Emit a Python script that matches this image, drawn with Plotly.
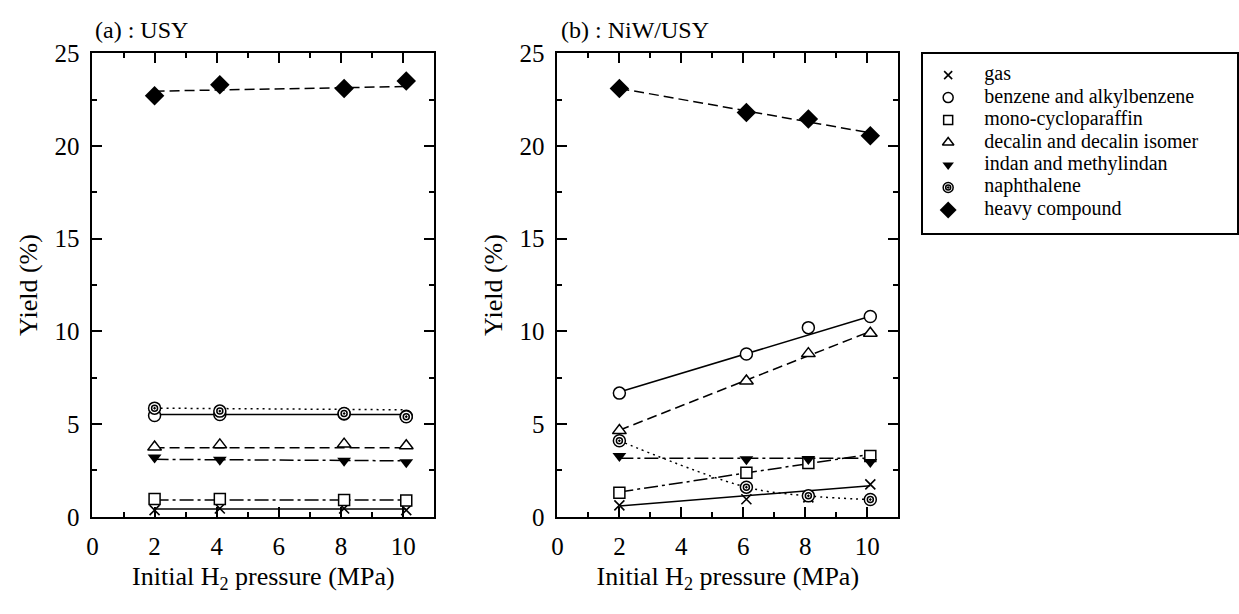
import plotly.graph_objects as go

# ---------------- data ----------------
series_names = ["gas", "benzene and alkylbenzene", "mono-cycloparaffin",
                "decalin and decalin isomer", "indan and methylindan",
                "naphthalene", "heavy compound"]

x_ticks = [0, 2, 4, 6, 8, 10]
y_ticks = [0, 5, 10, 15, 20, 25]

# (a) USY
x_a = [2.0, 4.1, 8.1, 10.1]
gas_a = [0.36, 0.45, 0.45, 0.36]
benz_a = [5.46, 5.52, 5.55, 5.42]
mono_a = [0.96, 0.96, 0.91, 0.88]
dec_a = [3.76, 3.88, 3.92, 3.83]
indan_a = [3.20, 3.08, 3.03, 2.94]
naph_a = [5.86, 5.70, 5.57, 5.40]
heavy_a = [22.7, 23.3, 23.1, 23.5]

# trend lines (a), values at first and last pressure
gas_a_fit = [0.42, 0.42]
benz_a_fit = [5.52, 5.52]
mono_a_fit = [0.91, 0.91]
dec_a_fit = [3.73, 3.73]
indan_a_fit = [3.10, 3.02]
naph_a_fit = [5.86, 5.77]
heavy_a_fit = [22.95, 23.2]

# (b) NiW/USY
x_b = [2.0, 6.1, 8.1, 10.1]
gas_b = [0.62, 0.95, 1.05, 1.75]
benz_b = [6.67, 8.78, 10.2, 10.8]
mono_b = [1.30, 2.37, 2.90, 3.28]
dec_b = [4.65, 7.32, 8.80, 9.90]
indan_b = [3.28, 3.10, 3.12, 2.95]
naph_b = [4.10, 1.60, 1.13, 0.93]
heavy_b = [23.1, 21.8, 21.45, 20.55]

gas_b_fit = [0.58, 1.68]
benz_b_fit = [6.73, 10.81]
mono_b_fit = [1.34, 3.37]
dec_b_fit = [4.67, 10.0]
indan_b_fit = [3.16, 3.16]
heavy_b_fit = [23.1, 20.7]

x_title = "Initial H<sub>2</sub> pressure (MPa)"
y_title = "Yield (%)"

# ---------------- styles ----------------
FONT = "Liberation Serif, Times New Roman, Times, DejaVu Serif, serif"
BLACK = "black"
DASH = "10px,5px"
DOT = "2px,4px"
DASHDOT = "14px,4px,3px,4px"

line_dash = {
    "gas": "solid",
    "benzene and alkylbenzene": "solid",
    "mono-cycloparaffin": DASHDOT,
    "decalin and decalin isomer": DASH,
    "indan and methylindan": DASHDOT,
    "naphthalene": DOT,
    "heavy compound": DASH,
}

marker_style = {
    "gas": dict(symbol="x-thin", size=10, color=BLACK, line=dict(width=1.6, color=BLACK)),
    "benzene and alkylbenzene": dict(symbol="circle", size=12, color="white", line=dict(width=1.5, color=BLACK)),
    "mono-cycloparaffin": dict(symbol="square", size=11, color="white", line=dict(width=1.5, color=BLACK)),
    "decalin and decalin isomer": dict(symbol="triangle-up", size=12, color="white", line=dict(width=1.5, color=BLACK)),
    "indan and methylindan": dict(symbol="triangle-down", size=12, color=BLACK, line=dict(width=0, color=BLACK)),
    "naphthalene": dict(symbol="circle", size=12, color="white", line=dict(width=1.5, color=BLACK)),
    "heavy compound": dict(symbol="diamond", size=15, color=BLACK, line=dict(width=0, color=BLACK)),
}
naph_inner = dict(symbol="circle-open-dot", size=6, color=BLACK, line=dict(width=1.5, color=BLACK))

fig = go.Figure()

panels = [
    ("x", "y", x_a,
     [gas_a, benz_a, mono_a, dec_a, indan_a, naph_a, heavy_a],
     [gas_a_fit, benz_a_fit, mono_a_fit, dec_a_fit, indan_a_fit, naph_a_fit, heavy_a_fit]),
    ("x2", "y2", x_b,
     [gas_b, benz_b, mono_b, dec_b, indan_b, naph_b, heavy_b],
     [gas_b_fit, benz_b_fit, mono_b_fit, dec_b_fit, indan_b_fit, None, heavy_b_fit]),
]

for xa, ya, xs, ys_list, fits in panels:
    for name, ys, fit in zip(series_names, ys_list, fits):
        if fit is not None:
            fig.add_trace(go.Scatter(x=[xs[0], xs[-1]], y=fit, mode="lines", xaxis=xa, yaxis=ya,
                                     line=dict(color=BLACK, width=1.5, dash=line_dash[name]),
                                     showlegend=False, hoverinfo="skip"))
        else:
            fig.add_trace(go.Scatter(x=xs, y=ys, mode="lines", xaxis=xa, yaxis=ya,
                                     line=dict(color=BLACK, width=1.5, dash=line_dash[name], shape="spline"),
                                     showlegend=False, hoverinfo="skip"))
    for name, ys in zip(series_names, ys_list):
        fig.add_trace(go.Scatter(x=xs, y=ys, mode="markers", xaxis=xa, yaxis=ya, name=name,
                                 marker=marker_style[name], showlegend=False, cliponaxis=False))
        if name == "naphthalene":
            fig.add_trace(go.Scatter(x=xs, y=ys, mode="markers", xaxis=xa, yaxis=ya,
                                     marker=naph_inner, showlegend=False, cliponaxis=False))

# ---------------- custom legend (own axes) ----------------
leg_idx = list(range(len(series_names)))
leg_marker_x = 0.8
leg_text_x = 1.95
for i, name in enumerate(series_names):
    st = dict(marker_style[name])
    st["size"] = max(st["size"] - 2, 8)
    fig.add_trace(go.Scatter(x=[leg_marker_x], y=[i], mode="markers", xaxis="x3", yaxis="y3",
                             marker=st, showlegend=False, cliponaxis=False, hoverinfo="skip"))
    if name == "naphthalene":
        inner = dict(naph_inner)
        inner["size"] = 5
        fig.add_trace(go.Scatter(x=[leg_marker_x], y=[i], mode="markers", xaxis="x3", yaxis="y3",
                                 marker=inner, showlegend=False, cliponaxis=False, hoverinfo="skip"))
fig.add_trace(go.Scatter(x=[leg_text_x] * len(series_names), y=leg_idx, mode="text", text=series_names,
                         textposition="middle right", xaxis="x3", yaxis="y3",
                         textfont=dict(family=FONT, size=20, color=BLACK),
                         showlegend=False, cliponaxis=False, hoverinfo="skip"))

W, H = 1239, 614
ydom = [87 / H, 572 / H]
ann_font = dict(family=FONT, size=26, color=BLACK)

def xaxis_cfg(dom, anchor):
    return dict(domain=dom, range=[0, 11], tickvals=x_ticks, ticktext=[str(v) for v in x_ticks],
                anchor=anchor,
                ticks="inside", ticklen=10, tickwidth=1.5, tickcolor=BLACK,
                minor=dict(dtick=1, ticklen=5, tickwidth=1.5, tickcolor=BLACK, ticks="inside"),
                showline=True, linewidth=2, linecolor=BLACK, mirror="allticks",
                showgrid=False, zeroline=False, ticklabelstandoff=6,
                tickfont=dict(family=FONT, size=25, color=BLACK),
                title=dict(text=x_title, font=ann_font, standoff=8))

def yaxis_cfg(anchor):
    return dict(domain=ydom, range=[0, 25], tickvals=y_ticks, ticktext=[str(v) for v in y_ticks],
                anchor=anchor,
                ticks="inside", ticklen=10, tickwidth=1.5, tickcolor=BLACK,
                minor=dict(dtick=2.5, ticklen=5, tickwidth=1.5, tickcolor=BLACK, ticks="inside"),
                showline=True, linewidth=2, linecolor=BLACK, mirror="allticks",
                showgrid=False, zeroline=False, ticklabelstandoff=6,
                tickfont=dict(family=FONT, size=25, color=BLACK),
                title=dict(text=y_title, font=ann_font, standoff=9))

title_font = dict(family=FONT, size=24, color=BLACK)
annotations = [
    dict(text="(a) : USY", x=88 / W, y=1 - 18 / H, xref="paper", yref="paper", xanchor="left",
         yanchor="middle", showarrow=False, font=title_font),
    dict(text="(b) : NiW/USY", x=557 / W, y=1 - 18 / H, xref="paper", yref="paper", xanchor="left",
         yanchor="middle", showarrow=False, font=title_font),
]

fig.update_layout(
    width=W, height=H,
    margin=dict(l=0, r=0, t=0, b=0),
    paper_bgcolor="white", plot_bgcolor="white",
    showlegend=False,
    xaxis=xaxis_cfg([87 / W, 431 / W], "y"), xaxis2=xaxis_cfg([555 / W, 898 / W], "y2"),
    yaxis=yaxis_cfg("x"), yaxis2=yaxis_cfg("x2"),
    xaxis3=dict(domain=[923 / W, 1.0], range=[0, 10], anchor="y3", showline=True, mirror=True,
                linecolor=BLACK, linewidth=1.5, showticklabels=False, ticks="", showgrid=False,
                zeroline=False, fixedrange=True),
    yaxis3=dict(domain=[(H - 230) / H, (H - 43) / H], range=[7.02, -0.936], anchor="x3", showline=True,
                mirror=True, linecolor=BLACK, linewidth=1.5, showticklabels=False, ticks="",
                showgrid=False, zeroline=False, fixedrange=True),
    annotations=annotations,
    font=dict(family=FONT, color=BLACK),
)

fig.write_html("out.html")
